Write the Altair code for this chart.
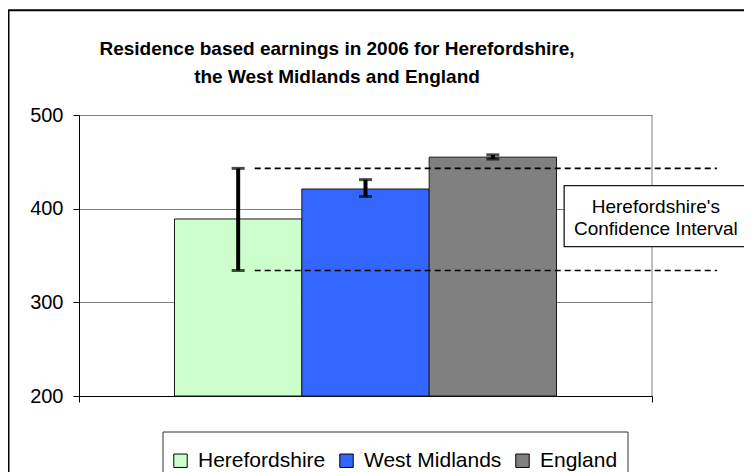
import altair as alt
import pandas as pd

# ---- data ----
categories = ["Herefordshire", "West Midlands", "England"]
earnings = [389, 421, 455]
ci_lower = [334, 413, 453]
ci_upper = [443, 431, 457.5]
colors = ["#CCFFCC", "#3366FF", "#808080"]
y_ticks = [200, 300, 400, 500]
title_lines = ["Residence based earnings in 2006 for Herefordshire,",
               "the West Midlands and England"]
callout_lines = ["Herefordshire's", "Confidence Interval"]

FONT = "Liberation Sans"

df = pd.DataFrame({"category": categories, "earnings": earnings,
                   "lower": ci_lower, "upper": ci_upper})
df["x0"] = [i + 0.75 for i in range(len(df))]
df["x1"] = df["x0"] + 1.0
df["xc"] = df["x0"] + 0.5

ci_df = pd.DataFrame({"y": [ci_upper[0], ci_lower[0]]})
one = pd.DataFrame({"a": [0]})

X = alt.Scale(domain=[0, 4.5], nice=False, zero=False)
Y = alt.Scale(domain=[200, 500], nice=False, zero=False)

x_axis = alt.Axis(values=[0, 4.5], labels=False, grid=False, ticks=True,
                  tickSize=6, tickColor="black", domainColor="black", title=None)
y_axis = alt.Axis(values=y_ticks, grid=True, gridColor="#808080", gridWidth=1,
                  tickSize=6, tickColor="black", domainColor="black",
                  labelFontSize=20, labelColor="black", labelPadding=10,
                  labelFont=FONT, title=None)

base = alt.Chart(df)

bars = base.mark_bar(stroke="#1a1a1a", strokeWidth=1).encode(
    x=alt.X("x0:Q", scale=X, axis=x_axis),
    x2="x1:Q",
    y=alt.Y("earnings:Q", scale=Y, axis=y_axis),
    y2=alt.datum(200),
    color=alt.Color("category:N",
                    scale=alt.Scale(domain=categories, range=colors),
                    sort=categories,
                    legend=alt.Legend(orient="none", legendX=91, legendY=335,
                                      direction="horizontal", title=None,
                                      symbolType="square", symbolSize=180,
                                      symbolStrokeColor="black",
                                      symbolStrokeWidth=1,
                                      labelFontSize=21, labelFont=FONT,
                                      labelColor="black", labelOffset=7,
                                      columnPadding=10, padding=0)),
)

right_border = alt.Chart(one).mark_rule(color="#808080", strokeWidth=1).encode(
    x=alt.datum(4.5, scale=X), y=alt.datum(200), y2=alt.datum(500))

err_rule = base.mark_rule(color="black", strokeWidth=4).encode(
    x="xc:Q", y="lower:Q", y2="upper:Q")
cap_lo = base.mark_tick(color="black", orient="horizontal", size=13,
                        thickness=3).encode(x="xc:Q", y="lower:Q")
cap_hi = base.mark_tick(color="black", orient="horizontal", size=13,
                        thickness=3).encode(x="xc:Q", y="upper:Q")

dashes = alt.Chart(ci_df).mark_rule(color="black", strokeWidth=1.6,
                                    strokeDash=[6, 4]).encode(
    x=alt.datum(1.38), x2=alt.datum(5.01), y="y:Q")

callout_box = alt.Chart(one).mark_rect(fill="white", stroke="#1a1a1a",
                                       strokeWidth=1.3).encode(
    x=alt.datum(3.81), x2=alt.datum(5.8), y=alt.datum(359.5), y2=alt.datum(424.5))
callout_text = alt.Chart(one).mark_text(text=callout_lines, fontSize=19,
                                        font=FONT, lineHeight=22,
                                        align="center", baseline="alphabetic",
                                        color="black").encode(
    x=alt.datum(4.53), y=alt.datum(395.8))

title_text = alt.Chart(one).mark_text(text=title_lines, fontSize=19,
                                      fontWeight="bold", font=FONT,
                                      lineHeight=28, align="center",
                                      baseline="alphabetic",
                                      color="black").encode(
    x=alt.value(258), y=alt.value(-60.5))

legend_frame = alt.Chart(one).mark_rect(fill="white", stroke="#333333",
                                        strokeWidth=1).encode(
    x=alt.value(84), x2=alt.value(549), y=alt.value(317), y2=alt.value(420))

outer_frame = alt.Chart(one).mark_rect(fill=None, stroke="black",
                                       strokeWidth=2).encode(
    x=alt.value(-70.5), x2=alt.value(720), y=alt.value(-104.8), y2=alt.value(420))

chart = alt.layer(
    outer_frame, legend_frame, bars, right_border, err_rule, cap_lo, cap_hi,
    dashes, callout_box, callout_text, title_text
).properties(
    width=573, height=281,
    padding={"left": 71, "top": 107, "right": 92, "bottom": 76},
    autosize=alt.AutoSizeParams(type="none"),
).configure(font=FONT).configure_view(stroke=None)

chart.save("out.html", embed_options={"renderer": "svg", "actions": False})
